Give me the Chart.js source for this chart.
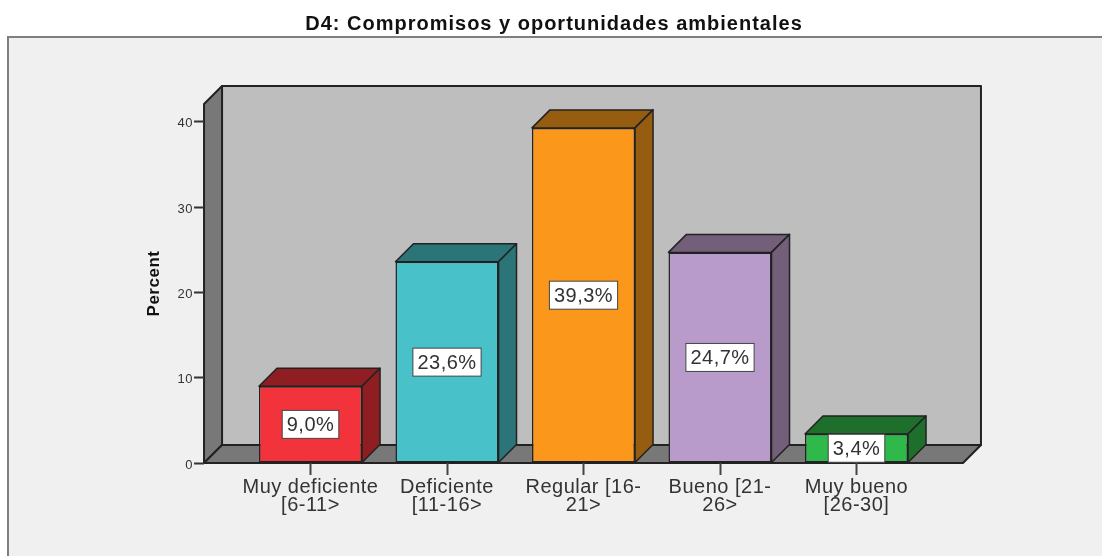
<!DOCTYPE html>
<html lang="en">
<head>
  <meta charset="UTF-8">
  <title>D4: Compromisos y oportunidades ambientales</title>
  <style>
    html, body { margin: 0; padding: 0; background: #fff; }
    canvas { display: block; }
  </style>
</head>
<body>
  <canvas id="myChart" width="1102" height="556"></canvas>

  <script src="https://cdn.jsdelivr.net/npm/chart.js"></script>

  <script>
    const chartTitle = 'D4: Compromisos y oportunidades ambientales';
    const axisTitle = 'Percent';
    const categories = [
      ['Muy deficiente', '[6-11>'],
      ['Deficiente', '[11-16>'],
      ['Regular [16-', '21>'],
      ['Bueno [21-', '26>'],
      ['Muy bueno', '[26-30]']
    ];
    const percents = [9.0, 23.6, 39.3, 24.7, 3.4];
    const frontColors = ['#f3333c', '#48c2c8', '#fb981c', '#b89bca', '#2eb94a'];
    const sideColors = ['#8f1e22', '#2b7477', '#965c10', '#735f7a', '#1e6f2c'];

    const depth = 18;
    const overhang = 0.78; // floor sticks out past the first and last category
    const lineColor = '#222';
    const fontFamily = '"Liberation Sans", Arial, sans-serif';

    function polygon(ctx, points, fill) {
      ctx.beginPath();
      points.forEach(([x, y], i) => i ? ctx.lineTo(x, y) : ctx.moveTo(x, y));
      ctx.closePath();
      ctx.fillStyle = fill;
      ctx.fill();
      ctx.stroke();
    }

    const box3d = {
      id: 'box3d',
      afterInit(chart) {
        // the title is spaced wider than the other texts
        const title = chart.titleBlock;
        const drawTitle = title.draw;
        title.draw = function () {
          chart.ctx.letterSpacing = '1px';
          drawTitle.call(title);
          chart.ctx.letterSpacing = '0.5px';
        };
      },
      afterLayout(chart) {
        // centre the title on the picture, not on the plot
        chart.titleBlock.left = 3;
        chart.titleBlock.right = 1105;
        // y axis stands at the front corner of the floor, left of the first band
        chart.scales.y.right = chart.scales.x.getPixelForValue(-overhang);
      },
      beforeDraw(chart) {
        const { ctx, scales: { x, y } } = chart;
        const left = x.getPixelForValue(-overhang);
        const right = x.getPixelForValue(categories.length - 1 + overhang);
        const bottom = y.getPixelForValue(0);
        const top = y.getPixelForValue(y.max);

        ctx.save();
        // panel
        ctx.fillStyle = '#f0f0f0';
        ctx.fillRect(8, 37, chart.width, chart.height);
        ctx.strokeStyle = '#7f7f7f';
        ctx.lineWidth = 2;
        ctx.strokeRect(8, 37, chart.width, chart.height);

        // back wall, side wall, floor
        ctx.strokeStyle = lineColor;
        ctx.lineWidth = 2;
        ctx.lineJoin = 'round';
        polygon(ctx, [[left + depth, top - depth], [right + depth, top - depth], [right + depth, bottom - depth], [left + depth, bottom - depth]], '#bebebe');
        polygon(ctx, [[left, top], [left + depth, top - depth], [left + depth, bottom - depth], [left, bottom]], '#787878');
        polygon(ctx, [[left, bottom], [left + depth, bottom - depth], [right + depth, bottom - depth], [right, bottom]], '#787878');
        ctx.restore();

        ctx.letterSpacing = '0.5px';
      },
      beforeDatasetsDraw(chart) {
        const { ctx } = chart;
        ctx.save();
        ctx.strokeStyle = lineColor;
        ctx.lineWidth = 1.5;
        ctx.lineJoin = 'round';
        chart.getDatasetMeta(0).data.forEach((bar, i) => {
          const l = bar.x - bar.width / 2;
          const r = bar.x + bar.width / 2;
          polygon(ctx, [[l, bar.y], [l + depth, bar.y - depth], [r + depth, bar.y - depth], [r, bar.y]], sideColors[i]);
          polygon(ctx, [[r, bar.y], [r + depth, bar.y - depth], [r + depth, bar.base - depth], [r, bar.base]], sideColors[i]);
        });
        ctx.restore();
      },
      afterDatasetsDraw(chart) {
        const { ctx } = chart;
        ctx.save();
        ctx.font = '20px ' + fontFamily;
        ctx.textAlign = 'center';
        ctx.textBaseline = 'middle';
        chart.getDatasetMeta(0).data.forEach((bar, i) => {
          const text = percents[i].toFixed(1).replace('.', ',') + '%';
          const w = ctx.measureText(text).width + 9;
          const h = 28;
          const cy = (bar.y + bar.base) / 2;
          ctx.fillStyle = '#fff';
          ctx.strokeStyle = '#444';
          ctx.lineWidth = 1;
          ctx.fillRect(bar.x - w / 2, cy - h / 2, w, h);
          ctx.strokeRect(bar.x - w / 2, cy - h / 2, w, h);
          ctx.fillStyle = '#333';
          ctx.fillText(text, bar.x, cy + 1);
        });
        ctx.restore();
      }
    };

    new Chart(document.getElementById('myChart'), {
      type: 'bar',
      plugins: [box3d],
      data: {
        labels: categories,
        datasets: [{
          data: percents,
          backgroundColor: frontColors,
          borderColor: lineColor,
          borderWidth: 1.5,
          borderSkipped: false,
          barPercentage: 0.755,
          categoryPercentage: 1
        }]
      },
      options: {
        responsive: false,
        animation: false,
        layout: { padding: { right: 177.25 } },
        plugins: {
          legend: { display: false },
          tooltip: { enabled: false },
          title: {
            display: true,
            text: chartTitle,
            color: '#111',
            font: { family: fontFamily, size: 20, weight: 'bold', lineHeight: 1 },
            padding: { top: 14, bottom: 70 }
          }
        },
        scales: {
          x: {
            offset: true,
            border: { display: false },
            grid: { offset: false, drawOnChartArea: false, tickLength: 12, tickWidth: 2, tickColor: '#444' },
            ticks: {
              autoSkip: false,
              maxRotation: 0,
              padding: 3,
              color: '#333',
              font: { family: fontFamily, size: 20, lineHeight: 0.9 }
            },
            afterFit(scale) { scale.height = 93; }
          },
          y: {
            min: 0,
            max: 42.1,
            border: { display: false },
            grid: { drawOnChartArea: false, tickLength: 10, tickWidth: 2, tickColor: '#333' },
            ticks: {
              stepSize: 10,
              includeBounds: false,
              padding: 1,
              labelOffset: 2,
              color: '#333',
              font: { family: fontFamily, size: 13 }
            },
            title: {
              display: true,
              text: axisTitle,
              color: '#111',
              font: { family: fontFamily, size: 17, weight: 'bold', lineHeight: 1 },
              padding: { top: 146 }
            },
            afterFit(scale) { scale.width = 242.25; }
          }
        }
      }
    });
  </script>
</body>
</html>
